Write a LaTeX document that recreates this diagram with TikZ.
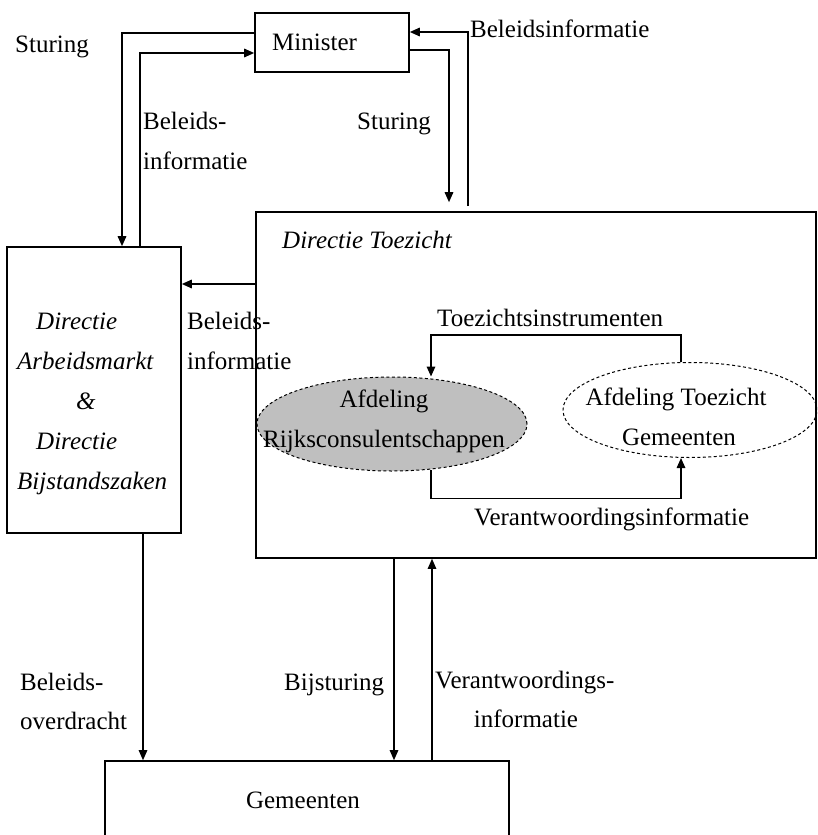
\documentclass[tikz,border=0pt]{standalone}
\usepackage{fontspec}
\setmainfont{Liberation Serif}
\usetikzlibrary{arrows.meta,shapes.geometric}
\begin{document}
\begin{tikzpicture}[x=1pt,y=-1pt,
  box/.style={draw,line width=1.6pt,inner sep=0pt},
  oval/.style={ellipse,draw,dash pattern=on 3pt off 2.5pt,line width=1pt,inner sep=0pt},
  lbl/.style={anchor=base west,inner sep=0pt,font=\fontsize{25}{30}\selectfont},
  lblc/.style={anchor=base,inner sep=0pt,font=\fontsize{25}{30}\selectfont},
  ital/.style={anchor=base west,inner sep=0pt,font=\fontsize{25}{30}\selectfont\itshape},
  arr/.style={line width=1.6pt,-{Triangle[length=10pt,width=8.5pt]}},
  arrthin/.style={line width=1.1pt,-{Triangle[length=10pt,width=8.5pt]}}]
\clip (0,0) rectangle (817,835);
\fill[white] (0,0) rectangle (817,835);

% boxes
\node[box,minimum width=154pt,minimum height=59pt] (min) at (332,42.5) {};
\node[box,minimum width=174pt,minimum height=286pt] (dam) at (94,390) {};
\node[box,minimum width=560pt,minimum height=346pt] (dt) at (536,385) {};
\node[box,minimum width=404pt,minimum height=120pt] (gem) at (307,821) {};

% ellipses
\node[oval,fill=black!25,minimum width=270pt,minimum height=94pt] (e1) at (392,424) {};
\node[oval,minimum width=254pt,minimum height=95pt] (e2) at (690,410) {};

% box texts
\node[lbl] (mintxt) at (272,50) {Minister};
\node[ital] (dtt) at (282,248) {Directie Toezicht};
\node[ital] (d1) at (36,329) {Directie};
\node[ital] (d2) at (17,369) {Arbeidsmarkt};
\node[ital] (d3) at (76,409) {\&};
\node[ital] (d4) at (36,449) {Directie};
\node[ital] (d5) at (17,489) {Bijstandszaken};
\node[lblc] (e1a) at (384,407) {Afdeling};
\node[lblc] (e1b) at (384,447) {Rijksconsulentschappen};
\node[lblc] (e2a) at (676,405) {Afdeling Toezicht};
\node[lblc] (e2b) at (679,445) {Gemeenten};
\node[lblc] (gemtxt) at (303,808) {Gemeenten};

% connector labels
\node[lbl] (l1) at (15,52) {Sturing};
\node[lbl] (l2a) at (143,129) {Beleids-};
\node[lbl] (l2b) at (143,169) {informatie};
\node[lbl] (l3) at (357,129) {Sturing};
\node[lbl] (l4) at (470,37) {Beleidsinformatie};
\node[lbl] (l5a) at (187,329) {Beleids-};
\node[lbl] (l5b) at (187,369) {informatie};
\node[lbl] (l6) at (437,326) {Toezichtsinstrumenten};
\node[lbl] (l7) at (474,525) {Verantwoordingsinformatie};
\node[lbl] (l8a) at (20,690) {Beleids-};
\node[lbl] (l8b) at (20,729) {overdracht};
\node[lbl] (l9) at (284,690) {Bijsturing};
\node[lbl] (l10a) at (435,688) {Verantwoordings-};
\node[lblc] (l10b) at (526,727) {informatie};

% connectors top
\draw[arr] ([yshift=9.5pt]min.west) -| ([xshift=28pt]dam.north);
\draw[arr] ([xshift=46pt]dam.north) |- ([yshift=-10.5pt]min.west);
\draw[arr,shorten <=5pt] ([xshift=-68pt]dt.north) |- ([yshift=10.5pt]min.east);
\draw[arr,shorten >=9pt] ([yshift=-7.5pt]min.east) -| ([xshift=-87pt]dt.north);
\draw[arr] ([yshift=101pt]dt.west) -- ([yshift=101pt]dt.west -| dam.east);

% inner connectors
\draw[arr] ([xshift=-9pt]e2.north) -- ++(0,-27) -| ([xshift=39pt]e1.north);
\draw[arr] ([xshift=39pt,yshift=2pt]e1.south) -- ++(0,29) -| ([xshift=-9pt]e2.south);

% bottom connectors
\draw[arrthin] ([xshift=49pt]dam.south) -- ([xshift=49pt]dam.south |- gem.north);
\draw[arrthin] ([xshift=-142pt]dt.south) -- ([xshift=-142pt]dt.south |- gem.north);
\draw[arrthin] ([xshift=-104pt]dt.south |- gem.north) -- ([xshift=-104pt]dt.south);
\end{tikzpicture}
\end{document}
